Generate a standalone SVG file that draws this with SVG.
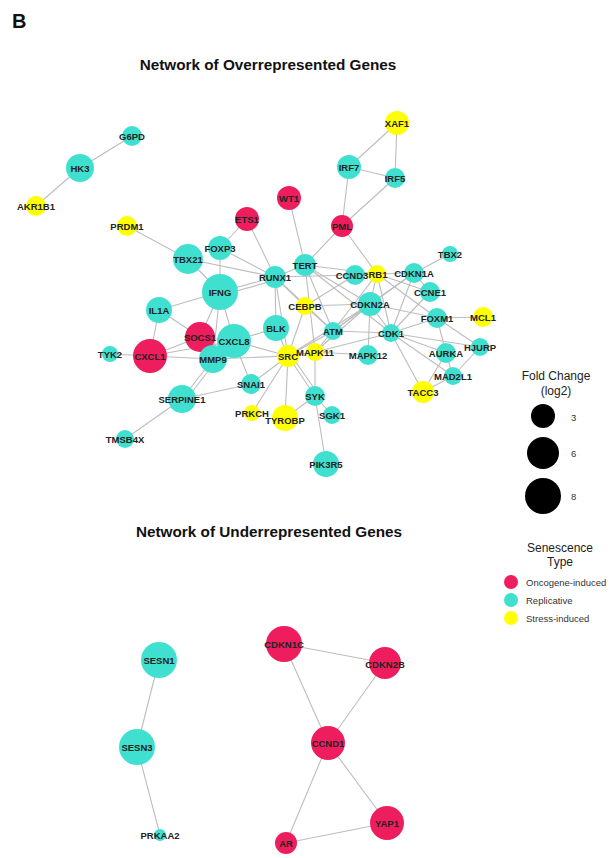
<svg xmlns="http://www.w3.org/2000/svg" width="615" height="858" viewBox="0 0 615 858">
<style>
.e{stroke:#bdbdbd;stroke-width:1.1;fill:none}
.o{fill:#EE1D5E}
.r{fill:#40E0D0}
.s{fill:#FFFF00}
.l{font-family:"Liberation Sans",Arial,sans-serif;font-weight:bold;font-size:9.5px;fill:#222;text-anchor:middle;dominant-baseline:central}
.t{font-family:"Liberation Sans",Arial,sans-serif;font-weight:bold;font-size:15.3px;fill:#111;text-anchor:middle}
.g{font-family:"Liberation Sans",Arial,sans-serif;font-size:12px;fill:#222;text-anchor:middle}
.k{font-family:"Liberation Sans",Arial,sans-serif;font-size:9.5px;fill:#333;dominant-baseline:central}
</style>
<rect width="615" height="858" fill="#fff"/>
<text x="12" y="28" font-family="Liberation Sans,Arial,sans-serif" font-weight="bold" font-size="20" fill="#111">B</text>
<text class="t" x="268" y="70">Network of Overrepresented Genes</text>
<text class="t" x="269" y="537">Network of Underrepresented Genes</text>
<g id="connectors">
<line class="e" x1="132" y1="136" x2="80" y2="168"/>
<line class="e" x1="80" y1="168" x2="36" y2="206"/>
<line class="e" x1="397" y1="123" x2="349" y2="167"/>
<line class="e" x1="397" y1="123" x2="395" y2="178"/>
<line class="e" x1="349" y1="167" x2="395" y2="178"/>
<line class="e" x1="349" y1="167" x2="342" y2="226"/>
<line class="e" x1="395" y1="178" x2="342" y2="226"/>
<line class="e" x1="342" y1="226" x2="305" y2="265"/>
<line class="e" x1="342" y1="226" x2="377" y2="274"/>
<line class="e" x1="289" y1="198" x2="305" y2="265"/>
<line class="e" x1="247" y1="219" x2="275" y2="277"/>
<line class="e" x1="247" y1="219" x2="220" y2="248"/>
<line class="e" x1="127" y1="226" x2="188" y2="259"/>
<line class="e" x1="188" y1="259" x2="275" y2="277"/>
<line class="e" x1="220" y1="248" x2="275" y2="277"/>
<line class="e" x1="220" y1="248" x2="220" y2="292"/>
<line class="e" x1="188" y1="259" x2="220" y2="292"/>
<line class="e" x1="220" y1="292" x2="275" y2="277"/>
<line class="e" x1="222" y1="295" x2="276" y2="280"/>
<line class="e" x1="275" y1="277" x2="305" y2="265"/>
<line class="e" x1="275" y1="277" x2="355" y2="275"/>
<line class="e" x1="275" y1="277" x2="276" y2="328"/>
<line class="e" x1="275" y1="277" x2="305" y2="306"/>
<line class="e" x1="275" y1="277" x2="288" y2="356"/>
<line class="e" x1="275" y1="277" x2="333" y2="331"/>
<line class="e" x1="305" y1="265" x2="377" y2="274"/>
<line class="e" x1="305" y1="265" x2="370" y2="304"/>
<line class="e" x1="305" y1="265" x2="333" y2="331"/>
<line class="e" x1="305" y1="265" x2="315" y2="352"/>
<line class="e" x1="305" y1="265" x2="391" y2="333"/>
<line class="e" x1="355" y1="275" x2="377" y2="274"/>
<line class="e" x1="355" y1="275" x2="305" y2="306"/>
<line class="e" x1="377" y1="274" x2="414" y2="273"/>
<line class="e" x1="377" y1="274" x2="370" y2="304"/>
<line class="e" x1="377" y1="274" x2="430" y2="292"/>
<line class="e" x1="377" y1="274" x2="391" y2="333"/>
<line class="e" x1="377" y1="274" x2="437" y2="318"/>
<line class="e" x1="377" y1="274" x2="333" y2="331"/>
<line class="e" x1="414" y1="273" x2="450" y2="254"/>
<line class="e" x1="414" y1="273" x2="370" y2="304"/>
<line class="e" x1="414" y1="273" x2="430" y2="292"/>
<line class="e" x1="414" y1="273" x2="391" y2="333"/>
<line class="e" x1="414" y1="273" x2="333" y2="331"/>
<line class="e" x1="370" y1="304" x2="305" y2="306"/>
<line class="e" x1="370" y1="304" x2="333" y2="331"/>
<line class="e" x1="370" y1="304" x2="391" y2="333"/>
<line class="e" x1="370" y1="304" x2="368" y2="355"/>
<line class="e" x1="370" y1="304" x2="437" y2="318"/>
<line class="e" x1="370" y1="304" x2="288" y2="356"/>
<line class="e" x1="370" y1="304" x2="315" y2="352"/>
<line class="e" x1="430" y1="292" x2="391" y2="333"/>
<line class="e" x1="437" y1="318" x2="483" y2="317"/>
<line class="e" x1="437" y1="318" x2="391" y2="333"/>
<line class="e" x1="437" y1="318" x2="446" y2="353"/>
<line class="e" x1="437" y1="318" x2="480" y2="347"/>
<line class="e" x1="391" y1="333" x2="333" y2="331"/>
<line class="e" x1="391" y1="333" x2="315" y2="352"/>
<line class="e" x1="391" y1="333" x2="446" y2="353"/>
<line class="e" x1="391" y1="333" x2="480" y2="347"/>
<line class="e" x1="391" y1="333" x2="453" y2="376"/>
<line class="e" x1="391" y1="333" x2="423" y2="392"/>
<line class="e" x1="446" y1="353" x2="453" y2="376"/>
<line class="e" x1="446" y1="353" x2="423" y2="392"/>
<line class="e" x1="480" y1="347" x2="453" y2="376"/>
<line class="e" x1="453" y1="376" x2="423" y2="392"/>
<line class="e" x1="333" y1="331" x2="315" y2="352"/>
<line class="e" x1="333" y1="331" x2="288" y2="356"/>
<line class="e" x1="305" y1="306" x2="333" y2="331"/>
<line class="e" x1="305" y1="306" x2="288" y2="356"/>
<line class="e" x1="315" y1="352" x2="368" y2="355"/>
<line class="e" x1="315" y1="352" x2="288" y2="356"/>
<line class="e" x1="315" y1="352" x2="315" y2="396"/>
<line class="e" x1="288" y1="356" x2="276" y2="328"/>
<line class="e" x1="288" y1="356" x2="234" y2="341"/>
<line class="e" x1="288" y1="356" x2="213" y2="359"/>
<line class="e" x1="288" y1="356" x2="251" y2="384"/>
<line class="e" x1="288" y1="356" x2="252" y2="413"/>
<line class="e" x1="288" y1="356" x2="285" y2="418"/>
<line class="e" x1="288" y1="356" x2="315" y2="396"/>
<line class="e" x1="291" y1="355" x2="318" y2="394"/>
<line class="e" x1="315" y1="396" x2="285" y2="418"/>
<line class="e" x1="315" y1="396" x2="332" y2="415"/>
<line class="e" x1="315" y1="396" x2="326" y2="464"/>
<line class="e" x1="276" y1="328" x2="234" y2="341"/>
<line class="e" x1="234" y1="341" x2="220" y2="292"/>
<line class="e" x1="234" y1="341" x2="200" y2="337"/>
<line class="e" x1="234" y1="341" x2="213" y2="359"/>
<line class="e" x1="234" y1="341" x2="251" y2="384"/>
<line class="e" x1="220" y1="292" x2="159" y2="310"/>
<line class="e" x1="220" y1="292" x2="200" y2="337"/>
<line class="e" x1="220" y1="292" x2="213" y2="359"/>
<line class="e" x1="159" y1="310" x2="200" y2="337"/>
<line class="e" x1="159" y1="310" x2="150" y2="356"/>
<line class="e" x1="150" y1="356" x2="200" y2="337"/>
<line class="e" x1="150" y1="356" x2="234" y2="341"/>
<line class="e" x1="150" y1="356" x2="213" y2="359"/>
<line class="e" x1="110" y1="354" x2="150" y2="356"/>
<line class="e" x1="213" y1="359" x2="182" y2="399"/>
<line class="e" x1="216" y1="361" x2="185" y2="401"/>
<line class="e" x1="182" y1="399" x2="251" y2="384"/>
<line class="e" x1="182" y1="399" x2="125" y2="439"/>
<line class="e" x1="159" y1="660" x2="137" y2="747"/>
<line class="e" x1="137" y1="747" x2="160" y2="835"/>
<line class="e" x1="284" y1="644" x2="385" y2="663"/>
<line class="e" x1="284" y1="644" x2="328" y2="743"/>
<line class="e" x1="385" y1="663" x2="328" y2="743"/>
<line class="e" x1="328" y1="743" x2="286" y2="843"/>
<line class="e" x1="328" y1="743" x2="387" y2="823"/>
<line class="e" x1="286" y1="843" x2="387" y2="823"/>
</g>
<g id="n-G6PD"><circle class="r" cx="132" cy="136" r="10"/><text class="l" x="132" y="136">G6PD</text></g>
<g id="n-HK3"><circle class="r" cx="80" cy="168" r="14"/><text class="l" x="80" y="168">HK3</text></g>
<g id="n-AKR1B1"><circle class="s" cx="36" cy="206" r="10"/><text class="l" x="36" y="206">AKR1B1</text></g>
<g id="n-PRDM1"><circle class="s" cx="127" cy="226" r="10"/><text class="l" x="127" y="226">PRDM1</text></g>
<g id="n-XAF1"><circle class="s" cx="397" cy="123" r="12"/><text class="l" x="397" y="123">XAF1</text></g>
<g id="n-IRF7"><circle class="r" cx="349" cy="167" r="12"/><text class="l" x="349" y="167">IRF7</text></g>
<g id="n-IRF5"><circle class="r" cx="395" cy="178" r="10"/><text class="l" x="395" y="178">IRF5</text></g>
<g id="n-WT1"><circle class="o" cx="289" cy="198" r="12"/><text class="l" x="289" y="198">WT1</text></g>
<g id="n-PML"><circle class="o" cx="342" cy="226" r="11"/><text class="l" x="342" y="226">PML</text></g>
<g id="n-ETS1"><circle class="o" cx="247" cy="219" r="12"/><text class="l" x="247" y="219">ETS1</text></g>
<g id="n-FOXP3"><circle class="r" cx="220" cy="248" r="12"/><text class="l" x="220" y="248">FOXP3</text></g>
<g id="n-TBX21"><circle class="r" cx="188" cy="259" r="15"/><text class="l" x="188" y="259">TBX21</text></g>
<g id="n-RUNX1"><circle class="r" cx="275" cy="277" r="11"/><text class="l" x="275" y="277">RUNX1</text></g>
<g id="n-TERT"><circle class="r" cx="305" cy="265" r="11"/><text class="l" x="305" y="265">TERT</text></g>
<g id="n-CCND3"><circle class="r" cx="355" cy="275" r="10"/><text class="l" x="352" y="275">CCND3</text></g>
<g id="n-RB1"><circle class="s" cx="377" cy="274" r="9"/><text class="l" x="378" y="274">RB1</text></g>
<g id="n-CDKN1A"><circle class="r" cx="414" cy="273" r="10"/><text class="l" x="414" y="273">CDKN1A</text></g>
<g id="n-TBX2"><circle class="r" cx="450" cy="254" r="8"/><text class="l" x="450" y="254">TBX2</text></g>
<g id="n-CCNE1"><circle class="r" cx="430" cy="292" r="10"/><text class="l" x="430" y="292">CCNE1</text></g>
<g id="n-IFNG"><circle class="r" cx="220" cy="292" r="18"/><text class="l" x="220" y="292">IFNG</text></g>
<g id="n-CEBPB"><circle class="s" cx="305" cy="306" r="9"/><text class="l" x="305" y="306">CEBPB</text></g>
<g id="n-CDKN2A"><circle class="r" cx="370" cy="304" r="12"/><text class="l" x="370" y="304">CDKN2A</text></g>
<g id="n-FOXM1"><circle class="r" cx="437" cy="318" r="10"/><text class="l" x="437" y="318">FOXM1</text></g>
<g id="n-MCL1"><circle class="s" cx="483" cy="317" r="10"/><text class="l" x="483" y="317">MCL1</text></g>
<g id="n-IL1A"><circle class="r" cx="159" cy="310" r="13"/><text class="l" x="159" y="310">IL1A</text></g>
<g id="n-BLK"><circle class="r" cx="276" cy="328" r="13"/><text class="l" x="276" y="328">BLK</text></g>
<g id="n-ATM"><circle class="r" cx="333" cy="331" r="9"/><text class="l" x="333" y="331">ATM</text></g>
<g id="n-CDK1"><circle class="r" cx="391" cy="333" r="9"/><text class="l" x="391" y="333">CDK1</text></g>
<g id="n-SOCS1"><circle class="o" cx="200" cy="337" r="15"/><text class="l" x="200" y="337">SOCS1</text></g>
<g id="n-CXCL8"><circle class="r" cx="234" cy="341" r="17"/><text class="l" x="234" y="341">CXCL8</text></g>
<g id="n-HJURP"><circle class="r" cx="480" cy="347" r="9"/><text class="l" x="480" y="347">HJURP</text></g>
<g id="n-AURKA"><circle class="r" cx="446" cy="353" r="10"/><text class="l" x="446" y="353">AURKA</text></g>
<g id="n-TYK2"><circle class="r" cx="110" cy="354" r="8"/><text class="l" x="110" y="354">TYK2</text></g>
<g id="n-CXCL1"><circle class="o" cx="150" cy="356" r="17"/><text class="l" x="150" y="356">CXCL1</text></g>
<g id="n-MMP9"><circle class="r" cx="213" cy="359" r="14"/><text class="l" x="213" y="359">MMP9</text></g>
<g id="n-SRC"><circle class="s" cx="288" cy="356" r="11"/><text class="l" x="288" y="356">SRC</text></g>
<g id="n-MAPK11"><circle class="s" cx="315" cy="352" r="9"/><text class="l" x="315" y="352">MAPK11</text></g>
<g id="n-MAPK12"><circle class="r" cx="368" cy="355" r="10"/><text class="l" x="368" y="355">MAPK12</text></g>
<g id="n-MAD2L1"><circle class="r" cx="453" cy="376" r="9"/><text class="l" x="453" y="376">MAD2L1</text></g>
<g id="n-SNAI1"><circle class="r" cx="251" cy="384" r="10"/><text class="l" x="251" y="384">SNAI1</text></g>
<g id="n-TACC3"><circle class="s" cx="423" cy="392" r="11"/><text class="l" x="423" y="392">TACC3</text></g>
<g id="n-SYK"><circle class="r" cx="315" cy="396" r="10"/><text class="l" x="315" y="396">SYK</text></g>
<g id="n-SERPINE1"><circle class="r" cx="182" cy="399" r="14"/><text class="l" x="182" y="399">SERPINE1</text></g>
<g id="n-PRKCH"><circle class="s" cx="252" cy="413" r="8"/><text class="l" x="252" y="413">PRKCH</text></g>
<g id="n-TYROBP"><circle class="s" cx="285" cy="418" r="13"/><text class="l" x="285" y="420">TYROBP</text></g>
<g id="n-SGK1"><circle class="r" cx="332" cy="415" r="9"/><text class="l" x="332" y="415">SGK1</text></g>
<g id="n-TMSB4X"><circle class="r" cx="125" cy="439" r="9"/><text class="l" x="125" y="439">TMSB4X</text></g>
<g id="n-PIK3R5"><circle class="r" cx="326" cy="464" r="13"/><text class="l" x="326" y="464">PIK3R5</text></g>
<g id="n-SESN1"><circle class="r" cx="159" cy="660" r="18"/><text class="l" x="159" y="660">SESN1</text></g>
<g id="n-SESN3"><circle class="r" cx="137" cy="747" r="18"/><text class="l" x="137" y="747">SESN3</text></g>
<g id="n-PRKAA2"><circle class="r" cx="160" cy="835" r="6"/><text class="l" x="160" y="835">PRKAA2</text></g>
<g id="n-CDKN1C"><circle class="o" cx="284" cy="644" r="18"/><text class="l" x="284" y="644">CDKN1C</text></g>
<g id="n-CDKN2B"><circle class="o" cx="385" cy="663" r="16"/><text class="l" x="385" y="664">CDKN2B</text></g>
<g id="n-CCND1"><circle class="o" cx="328" cy="743" r="17"/><text class="l" x="328" y="743">CCND1</text></g>
<g id="n-YAP1"><circle class="o" cx="387" cy="823" r="17"/><text class="l" x="387" y="823">YAP1</text></g>
<g id="n-AR"><circle class="o" cx="286" cy="843" r="11"/><text class="l" x="286" y="843">AR</text></g>
<g id="legend">
<text class="g" x="556" y="380">Fold Change</text>
<text class="g" x="556" y="395">(log2)</text>
<circle cx="543" cy="416" r="12" fill="#000"/><text class="k" x="571" y="417">3</text>
<circle cx="543" cy="453" r="16" fill="#000"/><text class="k" x="571" y="453">6</text>
<circle cx="543" cy="496" r="18" fill="#000"/><text class="k" x="571" y="496">8</text>
<text class="g" x="560" y="552">Senescence</text>
<text class="g" x="560" y="566">Type</text>
<circle class="o" cx="511" cy="582" r="7"/><text class="k" x="526" y="582">Oncogene-induced</text>
<circle class="r" cx="511" cy="600" r="7"/><text class="k" x="526" y="600">Replicative</text>
<circle class="s" cx="511" cy="618" r="7"/><text class="k" x="526" y="618">Stress-induced</text>
</g>
</svg>
